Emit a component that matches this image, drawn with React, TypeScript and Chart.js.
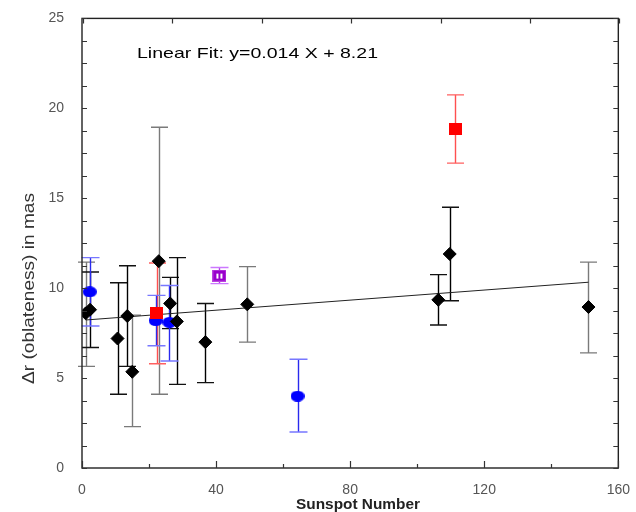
import React, { useEffect, useRef } from "react";
import { Chart, registerables } from "chart.js";

Chart.register(...registerables);

// ---- data ----
const diamondX = [1.1, 2.4, 10.6, 13.5, 15.0, 22.9, 26.3, 28.3, 36.8, 49.3, 106.3, 109.7, 151.1];
const diamondY = [8.6, 8.8, 7.2, 8.45, 5.35, 11.5, 9.15, 8.15, 7.0, 9.1, 9.35, 11.9, 8.95];
const diamondLow = [5.65, 6.7, 4.1, 5.65, 2.3, 4.1, 7.75, 4.65, 4.75, 7.0, 7.95, 9.3, 6.4];
const diamondHigh = [11.45, 10.9, 10.3, 11.25, 8.5, 18.95, 10.6, 11.7, 9.15, 11.2, 10.75, 14.5, 11.45];
const diamondBarGray = [true, false, false, false, true, true, false, false, false, true, false, false, true];

const blueX = [2.3, 22.0, 26.1, 64.3];
const blueY = [9.8, 8.2, 8.1, 4.0];
const blueLow = [7.9, 6.8, 5.95, 2.0];
const blueHigh = [11.7, 9.6, 10.15, 6.05];

const redX = [22.3, 111.4];
const redY = [8.6, 18.85];
const redLow = [5.8, 16.95];
const redHigh = [11.4, 20.75];

const purpleX = [41.0];
const purpleY = [10.7];
const purpleLow = [10.25];
const purpleHigh = [11.15];

const fitX = [1.1, 151.1];
const fitY = [8.23, 10.33];

const xMin = 0, xMax = 160, xStep = 40;
const yMin = 0, yMax = 25, yStep = 5;

const fitLabel = "Linear Fit: y=0.014 X + 8.21";
const xTitle = "Sunspot Number";
const yTitle = "\u0394r (oblateness) in mas";

const FONT = "'Liberation Sans', Arial, sans-serif";

function pts(xs: number[], ys: number[]) {
  return xs.map((x, i) => ({ x, y: ys[i] }));
}

function makeEllipse(w: number, h: number, color: string) {
  const c = document.createElement("canvas");
  c.width = w; c.height = h;
  const g = c.getContext("2d")!;
  g.fillStyle = color;
  g.beginPath();
  g.ellipse(w / 2, h / 2, w / 2, h / 2, 0, 0, Math.PI * 2);
  g.fill();
  return c;
}

function makeRect(w: number, h: number, color: string) {
  const c = document.createElement("canvas");
  c.width = w; c.height = h;
  const g = c.getContext("2d")!;
  g.fillStyle = color;
  g.fillRect(0, 0, w, h);
  return c;
}

function makePurple(w: number, h: number) {
  const c = document.createElement("canvas");
  c.width = w; c.height = h;
  const g = c.getContext("2d")!;
  g.fillStyle = "#bb44e0";
  g.fillRect(0, 0, w, h);
  g.fillStyle = "#9900cc";
  g.fillRect(1, 1, w - 2, h - 2);
  g.fillStyle = "#ffffff";
  g.fillRect(Math.round(w / 2) - 3, Math.round(h / 2) - 2, 2, 5);
  g.fillRect(Math.round(w / 2) + 1, Math.round(h / 2) - 2, 2, 5);
  return c;
}

const errorBarPlugin = {
  id: "errorBars",
  beforeDatasetsDraw(chart: any) {
    const ctx = chart.ctx;
    const xs = chart.scales.x;
    const ys = chart.scales.y;
    chart.data.datasets.forEach((ds: any) => {
      const eb = ds.errorBars;
      if (!eb) return;
      ds.data.forEach((p: any, i: number) => {
        const px = Math.round(xs.getPixelForValue(p.x)) + 0.5;
        const pt = ys.getPixelForValue(eb.high[i]);
        const pb = ys.getPixelForValue(eb.low[i]);
        ctx.save();
        ctx.lineWidth = eb.width;
        ctx.strokeStyle = eb.lineColor[i];
        ctx.beginPath();
        ctx.moveTo(px, pt);
        ctx.lineTo(px, pb);
        ctx.stroke();
        ctx.strokeStyle = eb.capColor[i];
        ctx.beginPath();
        ctx.moveTo(px - eb.cap, pt);
        ctx.lineTo(px + eb.cap, pt);
        ctx.moveTo(px - eb.cap, pb);
        ctx.lineTo(px + eb.cap, pb);
        ctx.stroke();
        ctx.restore();
      });
    });
  },
};

function stretchedText(
  ctx: CanvasRenderingContext2D,
  text: string,
  x: number,
  y: number,
  font: string,
  width: number,
  align: "left" | "center",
  rotate: number,
  color: string
) {
  ctx.save();
  ctx.font = font;
  ctx.fillStyle = color;
  ctx.textBaseline = "alphabetic";
  ctx.textAlign = align;
  const w = ctx.measureText(text).width;
  ctx.translate(x, y);
  if (rotate) ctx.rotate(rotate);
  ctx.scale(width / w, 1);
  ctx.fillText(text, 0, 0);
  ctx.restore();
}

const framePlugin = {
  id: "frame",
  afterDraw(chart: any) {
    const ctx = chart.ctx as CanvasRenderingContext2D;
    const { left, right, top, bottom } = chart.chartArea;
    const xs = chart.scales.x;
    const ys = chart.scales.y;
    ctx.save();
    ctx.strokeStyle = "#222";
    ctx.lineWidth = 1.4;
    ctx.strokeRect(left, top, right - left, bottom - top);
    ctx.lineWidth = 1.2;
    ctx.strokeStyle = "#333";
    ctx.beginPath();
    for (let v = yMin; v <= yMax + 1e-9; v += 1.25) {
      const y = Math.round(ys.getPixelForValue(v)) + 0.5;
      ctx.moveTo(left, y);
      ctx.lineTo(left + 5, y);
      ctx.moveTo(right - 5, y);
      ctx.lineTo(right, y);
    }
    for (let v = xMin; v <= xMax + 1e-9; v += 20) {
      const x = Math.round(xs.getPixelForValue(v)) + 0.5;
      const len = v % 40 === 0 ? 7 : 4;
      ctx.moveTo(x, bottom);
      ctx.lineTo(x, bottom - len);
    }
    for (let k = 0; k <= 6; k++) {
      const x = Math.round(xs.getPixelForValue(xMin + ((xMax - xMin) * k) / 6)) + 1.5;
      ctx.moveTo(x, top);
      ctx.lineTo(x, top + 5);
    }
    ctx.stroke();
    ctx.restore();

    stretchedText(ctx, yTitle, 33.5, 288.5, `17px ${FONT}`, 191, "center", -Math.PI / 2, "#333");
    stretchedText(ctx, xTitle, 358, 508.5, `bold 15px ${FONT}`, 124, "center", 0, "#222");
    stretchedText(ctx, fitLabel, 137, 57.5, `15px ${FONT}`, 241, "left", 0, "#000");
  },
};

export default function App() {
  const ref = useRef<HTMLCanvasElement | null>(null);

  useEffect(() => {
    if (!ref.current) return;
    const blueImg = makeEllipse(14, 11, "#0000ff");
    const redImg = makeRect(13, 12, "#ff0000");
    const purpleImg = makePurple(14, 12);

    const chart = new Chart(ref.current, {
      type: "scatter",
      data: {
        datasets: [
          {
            label: "diamonds",
            data: pts(diamondX, diamondY),
            pointStyle: "rectRot",
            pointRadius: 6.5,
            borderWidth: 1,
            backgroundColor: "#000",
            borderColor: "#000",
            errorBars: {
              low: diamondLow,
              high: diamondHigh,
              lineColor: diamondBarGray.map((g) => (g ? "#7a7a7a" : "#000")),
              capColor: diamondBarGray.map((g) => (g ? "#7a7a7a" : "#111")),
              cap: 8.5,
              width: 1.4,
            },
          } as any,
          {
            label: "red",
            data: pts(redX, redY),
            pointStyle: redImg,
            pointRadius: 6,
            errorBars: {
              low: redLow,
              high: redHigh,
              lineColor: redX.map(() => "#ff5050"),
              capColor: redX.map(() => "#ff6060"),
              cap: 8.5,
              width: 1.4,
            },
          } as any,
          {
            label: "purple",
            data: pts(purpleX, purpleY),
            pointStyle: purpleImg,
            pointRadius: 6,
            errorBars: {
              low: purpleLow,
              high: purpleHigh,
              lineColor: purpleX.map(() => "#b040e0"),
              capColor: purpleX.map(() => "#cc77ff"),
              cap: 9,
              width: 1.4,
            },
          } as any,
          {
            label: "blue",
            data: pts(blueX, blueY),
            pointStyle: blueImg,
            pointRadius: 6,
            errorBars: {
              low: blueLow,
              high: blueHigh,
              lineColor: blueX.map(() => "#2a2aee"),
              capColor: blueX.map(() => "#7777ff"),
              cap: 9,
              width: 1.4,
            },
          } as any,
          {
            label: "fit",
            data: pts(fitX, fitY),
            showLine: true,
            borderColor: "#222",
            borderWidth: 1,
            pointRadius: 0,
            fill: false,
          } as any,
        ],
      },
      options: {
        animation: false,
        responsive: false,
        events: [],
        layout: { padding: { top: 15, right: 15, left: 0, bottom: 0 } },
        plugins: { legend: { display: false }, tooltip: { enabled: false } },
        scales: {
          x: {
            type: "linear",
            min: xMin,
            max: xMax,
            ticks: {
              stepSize: xStep,
              font: { family: FONT, size: 14 },
              color: "#555",
              padding: 6,
              maxRotation: 0,
            },
            grid: { display: false },
            border: { display: false },
            afterFit(s: any) {
              s.height = 44;
            },
          },
          y: {
            type: "linear",
            min: yMin,
            max: yMax,
            ticks: {
              stepSize: yStep,
              font: { family: FONT, size: 14 },
              color: "#555",
              padding: 10,
            },
            grid: { display: false },
            border: { display: false },
            afterFit(s: any) {
              s.width = 82;
            },
          },
        },
      } as any,
      plugins: [errorBarPlugin, framePlugin],
    });
    return () => chart.destroy();
  }, []);

  return (
    <div style={{ position: "fixed", left: 0, top: 0, width: 636, height: 512, background: "#fff" }}>
      <canvas ref={ref} width={636} height={512} style={{ width: 636, height: 512, display: "block" }} />
    </div>
  );
}
